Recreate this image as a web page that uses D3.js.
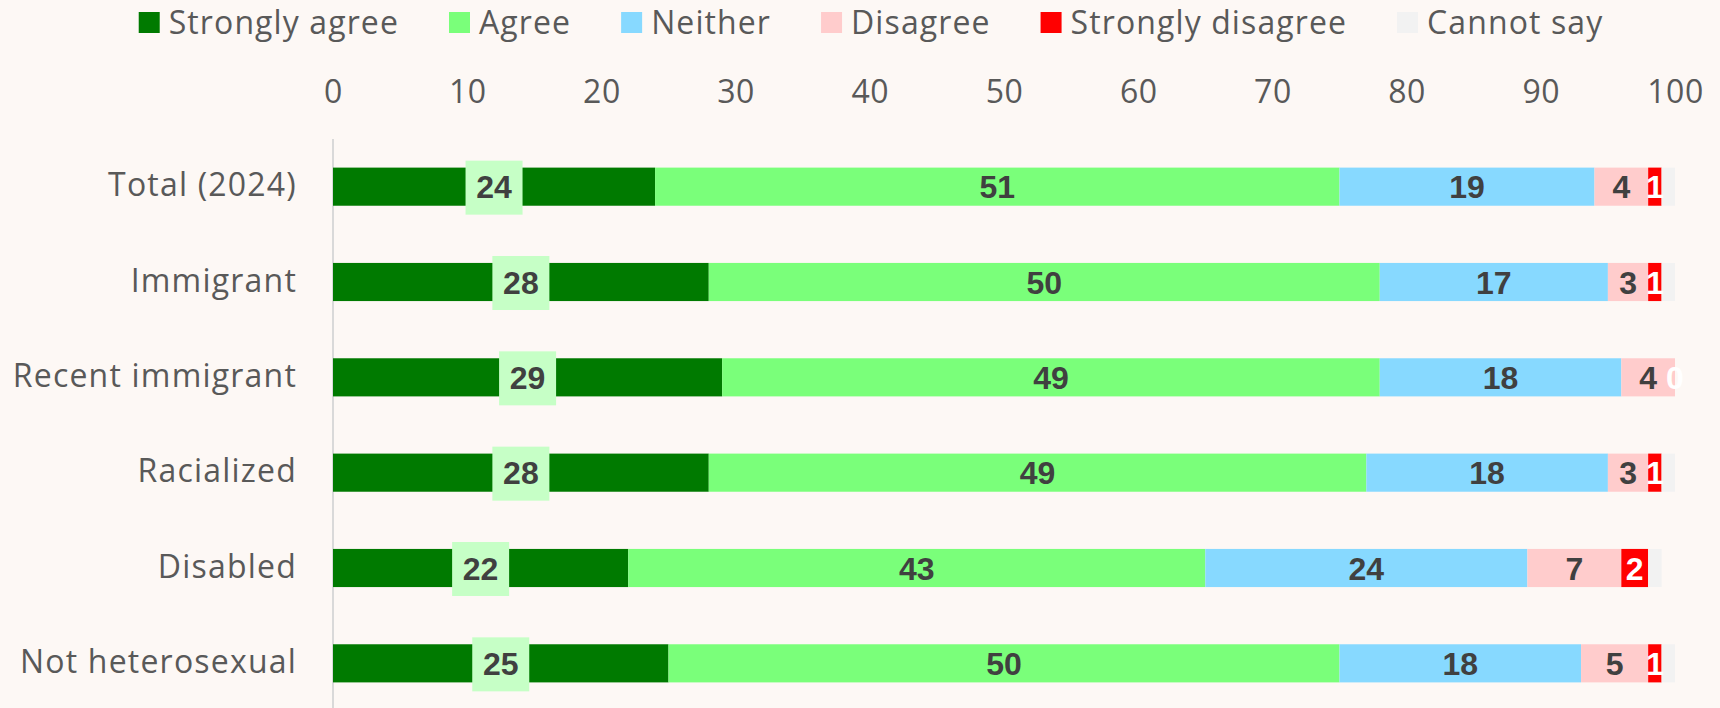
<!DOCTYPE html>
<html><head><meta charset="utf-8">
<script src="https://cdn.jsdelivr.net/npm/d3@7"></script>
<style>
html,body{margin:0;padding:0;background:#fdf8f5;}
svg{display:block;}
</style></head>
<body>
<svg id="chart" width="1720" height="708"></svg>
<script>
const categories = ["Total (2024)", "Immigrant", "Recent immigrant", "Racialized", "Disabled", "Not heterosexual"];
const seriesNames = ["Strongly agree", "Agree", "Neither", "Disagree", "Strongly disagree", "Cannot say"];
const stronglyAgree    = [24, 28, 29, 28, 22, 25];
const agree            = [51, 50, 49, 49, 43, 50];
const neither          = [19, 17, 18, 18, 24, 18];
const disagree         = [4, 3, 4, 3, 7, 5];
const stronglyDisagree = [1, 1, 0, 1, 2, 1];
const cannotSay        = [1, 1, 0, 1, 1, 1];
const xTicks = [0, 10, 20, 30, 40, 50, 60, 70, 80, 90, 100];

const colors = ["#007a00", "#7aff7a", "#87d9ff", "#ffcccc", "#ff0000", "#f2f2f2"];
const labelColors = ["#404040", "#404040", "#404040", "#404040", "#ffffff", null];

const series = [stronglyAgree, agree, neither, disagree, stronglyDisagree, cannotSay];
const rows = categories.map((c, i) => {
  const r = {cat: c};
  seriesNames.forEach((s, j) => r[s] = series[j][i]);
  return r;
});
const stacked = d3.stack().keys(seriesNames)(rows);

const svg = d3.select("#chart");
const textFont = "'Open Sans', 'Noto Sans', sans-serif";
const x = d3.scaleLinear().domain([0, 100]).range([333, 1675]);
const y = d3.scaleBand().domain(categories).range([139, 711]).paddingInner(0.6).paddingOuter(0.3);

// x axis at top (labels only)
const xAxis = svg.append("g").attr("transform", "translate(0,92)")
  .call(d3.axisTop(x).tickValues(xTicks).tickSize(0).tickPadding(0));
xAxis.select(".domain").remove();
xAxis.selectAll("text").attr("fill", "#595959").attr("font-size", 32).attr("font-family", textFont)
  .attr("letter-spacing", "0.5px").attr("dy", "0.35em");

// y axis
const yAxis = svg.append("g").attr("transform", "translate(333,0)")
  .call(d3.axisLeft(y).tickSize(0).tickPadding(36));
yAxis.select(".domain").attr("stroke", "#d9d9d9").attr("stroke-width", 2).attr("d", "M0,139V708");
yAxis.selectAll("text").attr("fill", "#595959").attr("font-size", 32).attr("font-family", textFont)
  .attr("letter-spacing", "1.2px").attr("dy", "0.3em");

// bars
const layers = svg.append("g").selectAll("g").data(stacked).join("g")
  .attr("fill", (d, i) => colors[i]);
layers.selectAll("rect").data(d => d).join("rect")
  .attr("x", d => x(d[0]))
  .attr("width", d => Math.max(0, x(d[1]) - x(d[0])))
  .attr("y", d => y(d.data.cat))
  .attr("height", y.bandwidth());

// labels
const lab = svg.append("g").attr("font-family", "'Liberation Sans', Arial, sans-serif")
  .attr("font-weight", "bold").attr("font-size", 32).attr("text-anchor", "middle");
stacked.forEach((layer, i) => {
  if (labelColors[i] === null) return;
  layer.forEach(d => {
    const v = d[1] - d[0];
    const cx = (x(d[0]) + x(d[1])) / 2;
    const cy = y(d.data.cat) + y.bandwidth() / 2;
    if (i === 0) {
      lab.append("rect").attr("x", cx - 28.5).attr("y", cy - 26).attr("width", 57).attr("height", 54)
        .attr("fill", "#c6ffc6");
    }
    lab.append("text").attr("x", cx).attr("y", cy).attr("dy", "0.36em")
      .attr("fill", labelColors[i]).text(v);
  });
});

// legend
const legend = svg.append("g").attr("font-family", textFont).attr("font-size", 32);
let lx = 141;
seriesNames.forEach((s, i) => {
  const g = legend.append("g").attr("transform", `translate(${lx},0)`);
  g.append("rect").attr("x", 0).attr("y", 12).attr("width", 21).attr("height", 21).attr("fill", colors[i]);
  const t = g.append("text").attr("x", 30).attr("y", 22.5).attr("dy", "0.35em")
    .attr("letter-spacing", "1.1px").attr("fill", "#595959").text(s);
  const w = t.node().getComputedTextLength();
  lx += 30 + w + 50;
});
const totalW = lx - 50 - 141;
legend.attr("transform", `translate(${871 - totalW / 2 - 141},0)`);
</script>
</body></html>
